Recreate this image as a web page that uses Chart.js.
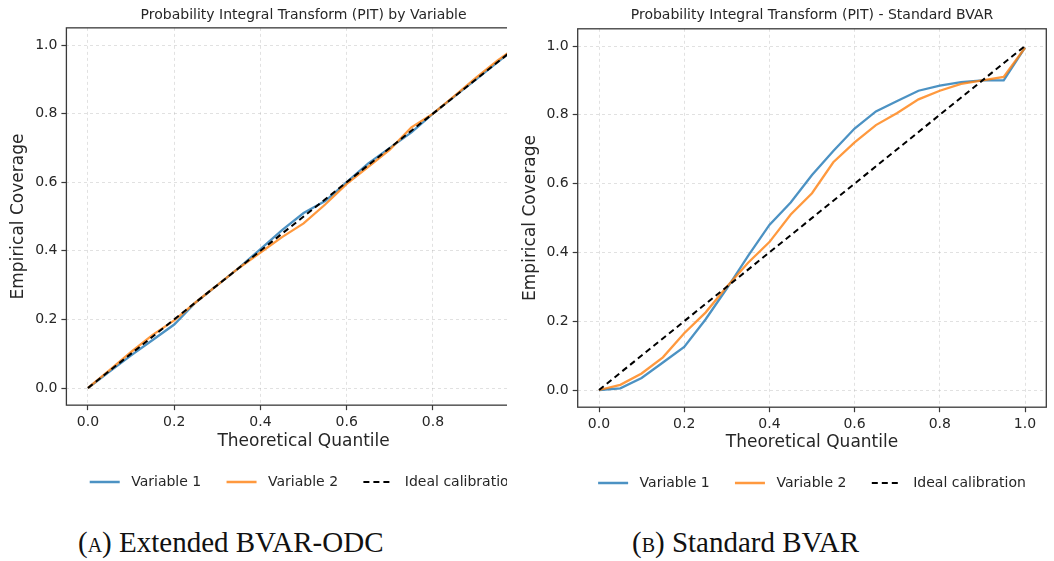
<!DOCTYPE html>
<html>
<head>
<meta charset="utf-8">
<title>PIT calibration</title>
<script src="https://cdn.jsdelivr.net/npm/chart.js@4.4.1/dist/chart.umd.min.js"></script>
<style>
  html, body { margin: 0; padding: 0; background: #fff; }
  body { width: 1054px; height: 561px; position: relative; overflow: hidden; }
  .panel { position: absolute; top: 0; height: 520px; overflow: hidden; }
  #panelA { left: 0; width: 507px; }
  #panelB { left: 512px; width: 542px; }
  .caption {
    position: absolute; top: 528px; line-height: 29px;
    font-family: "Liberation Serif", "Times New Roman", serif;
    font-size: 29px; color: #111; white-space: nowrap;
  }
  .sc { font-variant: small-caps; }
</style>
</head>
<body>
<div class="panel" id="panelA"><canvas id="chartA" width="560" height="520"></canvas></div>
<div class="panel" id="panelB"><canvas id="chartB" width="542" height="520"></canvas></div>
<div class="caption" style="left:78px"><span class="sc">(a)</span> Extended BVAR-ODC</div>
<div class="caption" style="left:632px"><span class="sc">(b)</span> Standard BVAR</div>

<script>
// --- Data ---
const quantiles = [0, 0.05, 0.1, 0.15, 0.2, 0.25, 0.3, 0.35, 0.4, 0.45, 0.5,
                   0.55, 0.6, 0.65, 0.7, 0.75, 0.8, 0.85, 0.9, 0.95, 1.0];

// Extended BVAR-ODC coverage
const extVar1 = [0, 0.048, 0.095, 0.14, 0.185, 0.25, 0.3, 0.35, 0.405, 0.46, 0.51,
                 0.545, 0.6, 0.655, 0.7, 0.745, 0.8, 0.85, 0.9, 0.95, 1.0];
const extVar2 = [0, 0.052, 0.105, 0.155, 0.197, 0.25, 0.3, 0.35, 0.395, 0.44, 0.48,
                 0.535, 0.595, 0.645, 0.695, 0.76, 0.8, 0.852, 0.905, 0.955, 1.0];

// Standard BVAR coverage
const stdVar1 = [0, 0.005, 0.035, 0.08, 0.125, 0.205, 0.295, 0.39, 0.48, 0.545, 0.625,
                 0.695, 0.76, 0.81, 0.84, 0.87, 0.885, 0.895, 0.9, 0.9, 0.995];
const stdVar2 = [0, 0.015, 0.048, 0.095, 0.165, 0.225, 0.3, 0.37, 0.43, 0.51, 0.572,
                 0.662, 0.72, 0.77, 0.805, 0.845, 0.87, 0.89, 0.9, 0.91, 0.995];

const idealX = [0, 1];
const idealY = [0, 1];

const axisTicks = [0, 0.2, 0.4, 0.6, 0.8, 1.0];
const seriesLabels = ['Variable 1', 'Variable 2', 'Ideal calibration'];

// --- Styling ---
const FONT = '"DejaVu Sans", "Liberation Sans", sans-serif';
const TEXT_COLOR = '#262626';
const BLUE = 'rgba(31, 119, 180, 0.8)';
const ORANGE = 'rgba(255, 127, 14, 0.8)';

function toPoints(xs, ys) {
    return xs.map((x, i) => ({ x: x, y: ys[i] }));
}

// Draws the closed axes box around the plot area
const framePlugin = {
    id: 'axesFrame',
    afterDatasetsDraw(chart) {
        const { ctx, chartArea: a } = chart;
        ctx.save();
        ctx.strokeStyle = '#3a3a3a';
        ctx.lineWidth = 1.3;
        ctx.setLineDash([]);
        ctx.strokeRect(a.left, a.top, a.right - a.left, a.bottom - a.top);
        ctx.restore();
    }
};

function fixedTicks(axis) {
    axis.ticks = axisTicks.map(v => ({ value: v }));
}

function makePitChart(canvas, title, var1, var2, layout) {
    return new Chart(canvas, {
        type: 'line',
        data: {
            datasets: [
                {
                    label: seriesLabels[0],
                    data: toPoints(quantiles, var1),
                    borderColor: BLUE,
                    backgroundColor: BLUE,
                    borderWidth: 2.3,
                    order: 2
                },
                {
                    label: seriesLabels[1],
                    data: toPoints(quantiles, var2),
                    borderColor: ORANGE,
                    backgroundColor: ORANGE,
                    borderWidth: 2.3,
                    order: 1
                },
                {
                    label: seriesLabels[2],
                    data: toPoints(idealX, idealY),
                    borderColor: '#000',
                    backgroundColor: '#000',
                    borderWidth: 2,
                    borderDash: [6, 4],
                    order: 0
                }
            ]
        },
        options: {
            responsive: false,
            animation: false,
            events: [],
            elements: {
                point: { radius: 0 },
                line: { tension: 0, fill: false }
            },
            layout: {
                padding: { left: 0, top: 0, right: layout.padRight, bottom: layout.padBottom }
            },
            scales: {
                x: {
                    type: 'linear',
                    min: -0.05,
                    max: 1.05,
                    afterBuildTicks: fixedTicks,
                    afterFit(scale) {
                        scale.height = layout.xHeight;
                        scale.paddingLeft = 0;
                        scale.paddingRight = 0;
                    },
                    ticks: {
                        color: TEXT_COLOR,
                        font: { family: FONT, size: 14 },
                        padding: 4,
                        maxRotation: 0,
                        callback: v => v.toFixed(1)
                    },
                    grid: {
                        color: 'rgba(170, 170, 170, 0.45)',
                        lineWidth: 0.8,
                        tickLength: 5,
                        tickColor: '#3a3a3a',
                        tickWidth: 1.2,
                        tickBorderDash: []
                    },
                    border: { display: false, dash: [3, 3] },
                    title: {
                        display: true,
                        text: 'Theoretical Quantile',
                        color: TEXT_COLOR,
                        font: { family: FONT, size: 17, lineHeight: 1 },
                        padding: { top: 0, bottom: 12.5 }
                    }
                },
                y: {
                    type: 'linear',
                    min: -0.05,
                    max: 1.05,
                    afterBuildTicks: fixedTicks,
                    afterFit(scale) {
                        scale.width = layout.yWidth;
                        scale.paddingTop = 0;
                        scale.paddingBottom = 0;
                    },
                    ticks: {
                        color: TEXT_COLOR,
                        font: { family: FONT, size: 14 },
                        padding: 4,
                        callback: v => v.toFixed(1)
                    },
                    grid: {
                        color: 'rgba(170, 170, 170, 0.45)',
                        lineWidth: 0.8,
                        tickLength: 5,
                        tickColor: '#3a3a3a',
                        tickWidth: 1.2,
                        tickBorderDash: []
                    },
                    border: { display: false, dash: [3, 3] },
                    title: {
                        display: true,
                        text: 'Empirical Coverage',
                        color: TEXT_COLOR,
                        font: { family: FONT, size: 17, lineHeight: 1 },
                        padding: { top: 10.5, bottom: 0 }
                    }
                }
            },
            plugins: {
                tooltip: { enabled: false },
                title: {
                    display: true,
                    text: title,
                    fullSize: false,
                    color: TEXT_COLOR,
                    font: { family: FONT, size: 14, weight: 'normal' },
                    padding: layout.titlePad
                },
                legend: {
                    display: true,
                    position: 'bottom',
                    fullSize: false,
                    labels: {
                        usePointStyle: true,
                        pointStyle: 'line',
                        pointStyleWidth: 30,
                        padding: 12,
                        color: TEXT_COLOR,
                        font: { family: FONT, size: 14 },
                        sort: (a, b) => a.datasetIndex - b.datasetIndex,
                        generateLabels(chart) {
                            const items = Chart.defaults.plugins.legend.labels.generateLabels(chart);
                            const last = chart.data.datasets.length - 1;
                            items.forEach(item => {
                                // handles take the line style, not the point style
                                const ds = chart.data.datasets[item.datasetIndex];
                                item.strokeStyle = ds.borderColor;
                                item.lineWidth = ds.borderWidth;
                                item.lineDash = ds.borderDash || [];
                                // a little extra room after the handle and between entries
                                item.text = ' ' + item.text + (item.datasetIndex < last ? '   ' : '');
                            });
                            return items;
                        }
                    }
                }
            }
        },
        plugins: [framePlugin]
    });
}

// --- Panels ---
makePitChart(document.getElementById('chartA'),
    'Probability Integral Transform (PIT) by Variable', extVar1, extVar2,
    { padRight: 19.2, padBottom: 21, xHeight: 57.85, yWidth: 66.4,
      titlePad: { top: 6.6, bottom: 4.45 } });

makePitChart(document.getElementById('chartB'),
    'Probability Integral Transform (PIT) - Standard BVAR', stdVar1, stdVar2,
    { padRight: 7.7, padBottom: 20, xHeight: 56.8, yWidth: 65.7,
      titlePad: { top: 6.6, bottom: 5.4 } });
</script>
</body>
</html>
